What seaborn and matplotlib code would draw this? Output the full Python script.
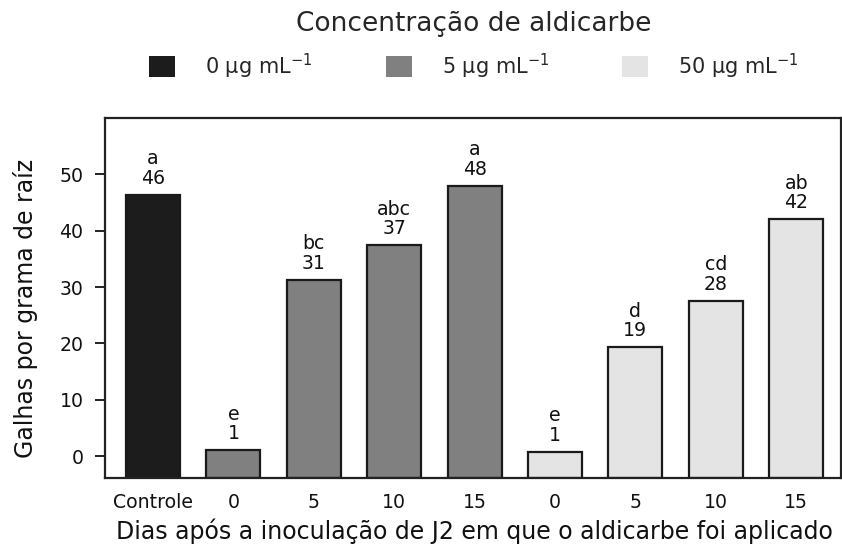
import numpy as np
import pandas as pd
import matplotlib
matplotlib.use("Agg")
import matplotlib.pyplot as plt
import seaborn as sns
from matplotlib.patches import Patch

# ---- data ----
days = ["Controle", "0", "5", "10", "15", "0", "5", "10", "15"]
concentration = ["0", "5", "5", "5", "5", "50", "50", "50", "50"]
galls = [46.4, 1.0, 31.3, 37.4, 48.0, 0.8, 19.3, 27.6, 42.0]
letters = ["a", "e", "bc", "abc", "a", "e", "d", "cd", "ab"]
conc_levels = ["0", "5", "50"]
conc_labels = ["0 µg mL$^{-1}$", "5 µg mL$^{-1}$", "50 µg mL$^{-1}$"]
colors = ["#1c1c1c", "#808080", "#e4e4e4"]
y_ticks = [0, 10, 20, 30, 40, 50]
legend_title = "Concentração de aldicarbe"
x_label = "Dias após a inoculação de J2 em que o aldicarbe foi aplicado"
y_label = "Galhas por grama de raíz"

sns.set_style("ticks")
plt.rcParams["font.family"] = ["DejaVu Sans"]
plt.rcParams["mathtext.fontset"] = "dejavusans"
plt.rcParams["mathtext.default"] = "regular"

W, H = 842, 554
fig = plt.figure(figsize=(W / 100, H / 100), dpi=100)
ax = fig.add_axes([105 / W, 1 - 478 / H, 736 / W, 360 / H])

keys = [f"{c}_{d}_{i}" for i, (c, d) in enumerate(zip(concentration, days))]
df = pd.DataFrame({"key": keys, "galls": galls, "conc": concentration})

sns.barplot(data=df, x="key", y="galls", hue="conc", order=keys,
            hue_order=conc_levels, palette=dict(zip(conc_levels, colors)),
            dodge=False, width=0.672, saturation=1, edgecolor="#1a1a1a",
            linewidth=1.6, legend=False, errorbar=None, ax=ax)

ylo, yhi = -3.9, 60.0
ax.set_ylim(ylo, yhi)
ax.set_xlim(-0.597, 8.557)

# bars extend down to the bottom of the plotting region (as in the original)
for p in ax.patches:
    h = p.get_height()
    p.set_y(ylo)
    p.set_height(h - ylo)

tick_fs = 13.6
for i, (v, l) in enumerate(zip(galls, letters)):
    ax.annotate(f"{l}\n{v:.0f}", xy=(i, v), xytext=(0, 5),
                textcoords="offset points", ha="center", va="bottom",
                fontsize=tick_fs, linespacing=1.05, color="#111111")

ax.set_xticks(range(len(days)))
ax.set_xticklabels(days)
ax.set_yticks(y_ticks)
ax.tick_params(axis="x", length=0, pad=11, labelsize=tick_fs, colors="#111111")
ax.tick_params(axis="y", length=7.5, width=1.3, pad=8, labelsize=tick_fs,
               colors="#111111")
for s in ax.spines.values():
    s.set_linewidth(1.6)
    s.set_color("#222222")

ax.set_xlabel(x_label, fontsize=17, color="#111111", va="baseline")
ax.xaxis.set_label_coords((474 - 105) / 736, (478 - 539) / 360)
ax.set_ylabel(y_label, fontsize=17, color="#111111", va="center")
ax.yaxis.set_label_coords((26 - 105) / 736, (478 - 308) / 360)

handles = [Patch(facecolor=c, edgecolor="none") for c in colors]
leg = fig.legend(handles=handles, labels=conc_labels, title=legend_title,
                 ncol=3, loc="upper center", bbox_to_anchor=(474 / W, 1.0),
                 frameon=False, fontsize=15, title_fontsize=19,
                 handlelength=1.25, handleheight=1.2, handletextpad=1.44,
                 columnspacing=3.5, borderaxespad=0.15, labelspacing=0.3)
leg._legend_box.sep = 10

fig.savefig("out.png", dpi=100)
